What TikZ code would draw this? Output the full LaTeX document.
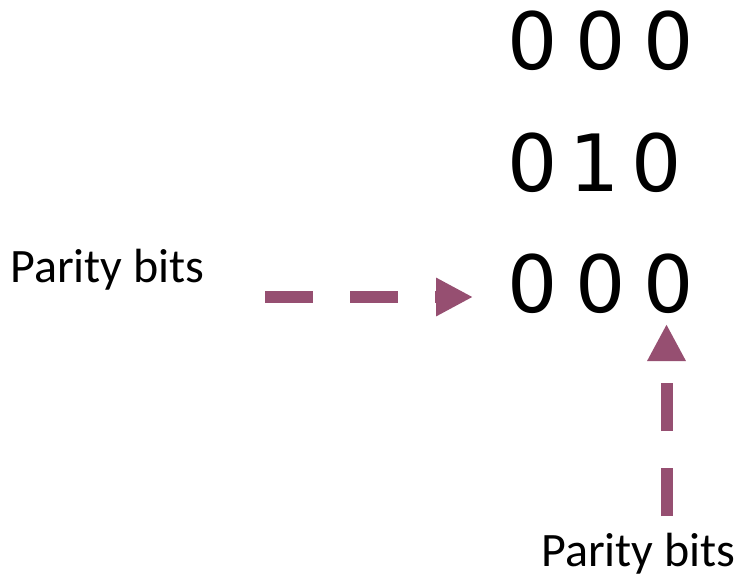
\documentclass[tikz,border=0pt]{standalone}
\usepackage{fontspec}
\setmainfont{Carlito}
\newfontfamily\digitfont{DejaVu Sans}
\usetikzlibrary{arrows.meta}
\definecolor{parity}{HTML}{964F71}
\begin{document}
\begin{tikzpicture}[x=1pt,y=-1pt,
  bit/.style={inner sep=0pt, font=\digitfont\fontsize{79}{79}\selectfont},
  label/.style={inner sep=0pt, anchor=base west, font=\fontsize{48}{48}\selectfont},
  parityarrow/.style={draw=parity, line width=12pt,
    dash pattern=on 48pt off 37pt,
    -{Triangle[length=37pt,width=36pt,fill=parity]}}]
\useasboundingbox (0,0) rectangle (738,578);
% 3x3 bit grid
\node[bit] (b11) at (532.5,41) {0};
\node[bit] (b12) at (600.5,41) {0};
\node[bit] (b13) at (669,41) {0};
\node[bit] (b21) at (532.5,162.5) {0};
\node[bit] (b22) at (595,162.5) {1};
\node[bit] (b23) at (656.5,162.5) {0};
\node[bit] (b31) at (532.5,284) {0};
\node[bit] (b32) at (600.5,284) {0};
\node[bit] (b33) at (669,284) {0};
% labels
\node[label] (lrow) at (10,282) {Parity bits};
\node[label] (lcol) at (541,566) {Parity bits};
% arrows pointing at the parity bits
\coordinate (hstart) at (265,297);
\coordinate (hend) at (473,297);
\coordinate (vstart) at (666.5,516);
\coordinate (vend) at (666.5,324);
\draw[parityarrow] (hstart) -- (hend);
\draw[parityarrow] (vstart) -- (vend);
\end{tikzpicture}
\end{document}
